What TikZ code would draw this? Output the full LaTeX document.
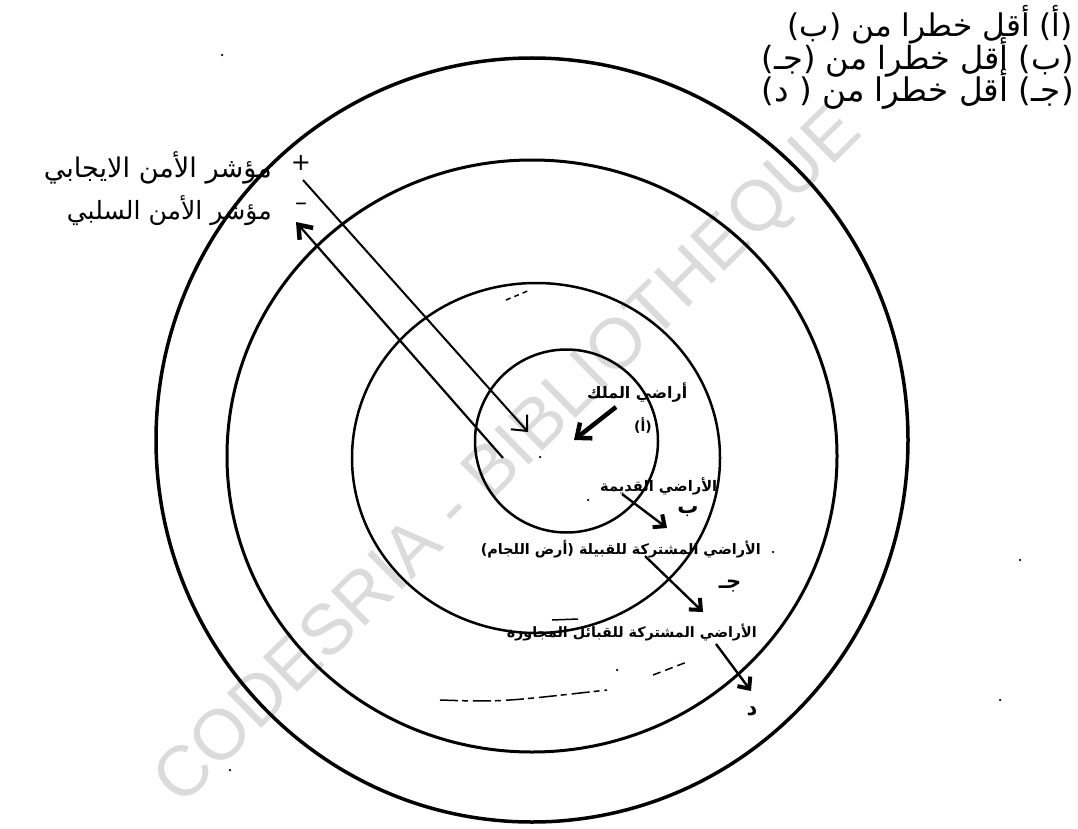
\documentclass[tikz,border=0pt]{standalone}
\usepackage{fontspec}
\usepackage{graphicx}
\usetikzlibrary{arrows.meta}
\newfontfamily\arabicfont[Script=Arabic]{DejaVu Sans}
\newfontfamily\wmfont{Liberation Sans}
\TeXXeTstate=1
\tikzset{
  ring/.style={draw=black, line width=#1},
  txt/.style={inner sep=0pt, font=\arabicfont},
  btxt/.style={inner sep=0pt, font=\arabicfont\bfseries},
  letter/.style={font=\arabicfont\bfseries\fontsize{21}{21}\selectfont, inner sep=0pt},
  thinarrow/.style={line width=2pt, -{Straight Barb[length=12pt,width=22pt]}},
  boldarrow/.style={line width=2.2pt, -{Straight Barb[length=12pt,width=18pt,line width=4.5pt]}},
  heavyarrow/.style={line width=4.5pt, -{Straight Barb[length=12pt,width=20pt]}},
  hookarrow/.style={line width=2.4pt, -{Straight Barb[length=9pt,width=16pt,line width=4pt]}},
  speck/.style={fill=black, circle, inner sep=0pt, minimum size=2.5pt},
  stray/.style={line width=1.5pt}
}
\begin{document}
\begin{tikzpicture}[x=1pt,y=-1pt]
\useasboundingbox (0,0) rectangle (1078,829);
% watermark
\node[rotate=44.6, text=black!14, font=\wmfont\fontsize{71}{71}\selectfont, inner sep=0pt] (wm) at (510,458) {CODESRIA - BIBLIOTHEQUE};
% rings
\draw[ring=3.5pt] (532,440) ellipse [x radius=376pt, y radius=382pt];
\draw[ring=3pt] (532,456) ellipse [x radius=305pt, y radius=296pt];
\draw[ring=2.5pt] (536,458) ellipse [x radius=184pt, y radius=175pt];
\draw[ring=2.5pt] (566.5,441) circle [radius=91.5pt];
% top legend
\node[txt, anchor=east] (t1) at (1073,25) {\resizebox{285pt}{!}{\beginR (أ) أقل خطرا من (ب)\endR}};
\node[txt, anchor=east] (t2) at (1074,57) {\resizebox{312pt}{!}{\beginR (ب) أقل خطرا من (جـ)\endR}};
\node[txt, anchor=east] (t3) at (1074,89) {\resizebox{312pt}{!}{\beginR (جـ) أقل خطرا من ( د)\endR}};
% indicators
\node[txt, font=\arabicfont\fontsize{24}{24}\selectfont] (plus) at (301,163) {+};
\node[txt, anchor=east] (pos) at (272,168) {\resizebox{228pt}{!}{\beginR مؤشر الأمن الايجابي\endR}};
\node[txt, font=\arabicfont\fontsize{24}{24}\selectfont] (minus) at (301,207) {–};
\node[txt, anchor=east] (neg) at (272,211) {\resizebox{205pt}{!}{\beginR مؤشر الأمن السلبي\endR}};
\coordinate (a1s) at (303,180);
\coordinate (a1e) at (528,432);
\coordinate (a2s) at (503,458);
\coordinate (a2e) at (296,222);
\draw[thinarrow] (a1s) -- (a1e);
\draw[boldarrow] (a2s) -- (a2e);
% king's land
\node[btxt, anchor=west] (king) at (587,393) {\resizebox{100pt}{!}{\beginR أراضي الملك\endR}};
\node[btxt, font=\arabicfont\bfseries\fontsize{14}{14}\selectfont] (kA) at (643,425) {\beginR (أ)\endR};
\coordinate (a3s) at (616,407);
\coordinate (a3e) at (574,440);
\draw[heavyarrow] (a3s) -- (a3e);
% old lands
\node[btxt, anchor=west] (old) at (600,486) {\resizebox{117pt}{!}{\beginR الأراضي القديمة\endR}};
\coordinate (abs) at (622,494);
\coordinate (abe) at (667,528);
\draw[hookarrow] (abs) -- (abe);
\node[letter] (lb) at (688,512) {\beginR ب\endR};
% tribe lands
\node[btxt, anchor=east] (tribe) at (761,549) {\resizebox{280pt}{!}{\beginR الأراضي المشتركة للقبيلة (أرض اللجام)\endR}};
\coordinate (ajs) at (645,556);
\coordinate (aje) at (703,612);
\draw[hookarrow] (ajs) -- (aje);
\node[letter] (lj) at (730,586) {\beginR جـ\endR};
% neighbours
\node[btxt, anchor=east] (neigh) at (757,632) {\resizebox{250pt}{!}{\beginR الأراضي المشتركة للقبائل المجاورة\endR}};
\coordinate (ads) at (716,644);
\coordinate (ade) at (751,691);
\draw[hookarrow] (ads) -- (ade);
\node[letter] (ld) at (752,711) {\beginR د\endR};
% specks and stray marks
\node[speck] (d2) at (540,457) {};
\node[speck] (d3) at (588,500) {};
\node[speck] (d4) at (773,552) {};
\node[speck] (d5) at (617,670) {};
\node[speck] (d6) at (222,55) {};
\node[speck] (d7) at (1020,560) {};
\node[speck] (d8) at (1000,700) {};
\node[speck] (d9) at (230,770) {};
\coordinate (m1a) at (552,620); \coordinate (m1b) at (578,619);
\draw[stray] (m1a) -- (m1b);
\coordinate (m2a) at (440,700); \coordinate (m2b) at (607,690);
\draw[stray, dash pattern=on 18pt off 4pt on 6pt off 5pt] (m2a) .. controls (500,702) .. (m2b);
\coordinate (m3a) at (653,675); \coordinate (m3b) at (687,662);
\draw[stray, dash pattern=on 8pt off 5pt] (m3a) -- (m3b);
\coordinate (m4a) at (506,300); \coordinate (m4b) at (530,290);
\draw[stray, dash pattern=on 5pt off 4pt] (m4a) -- (m4b);
\end{tikzpicture}
\end{document}
